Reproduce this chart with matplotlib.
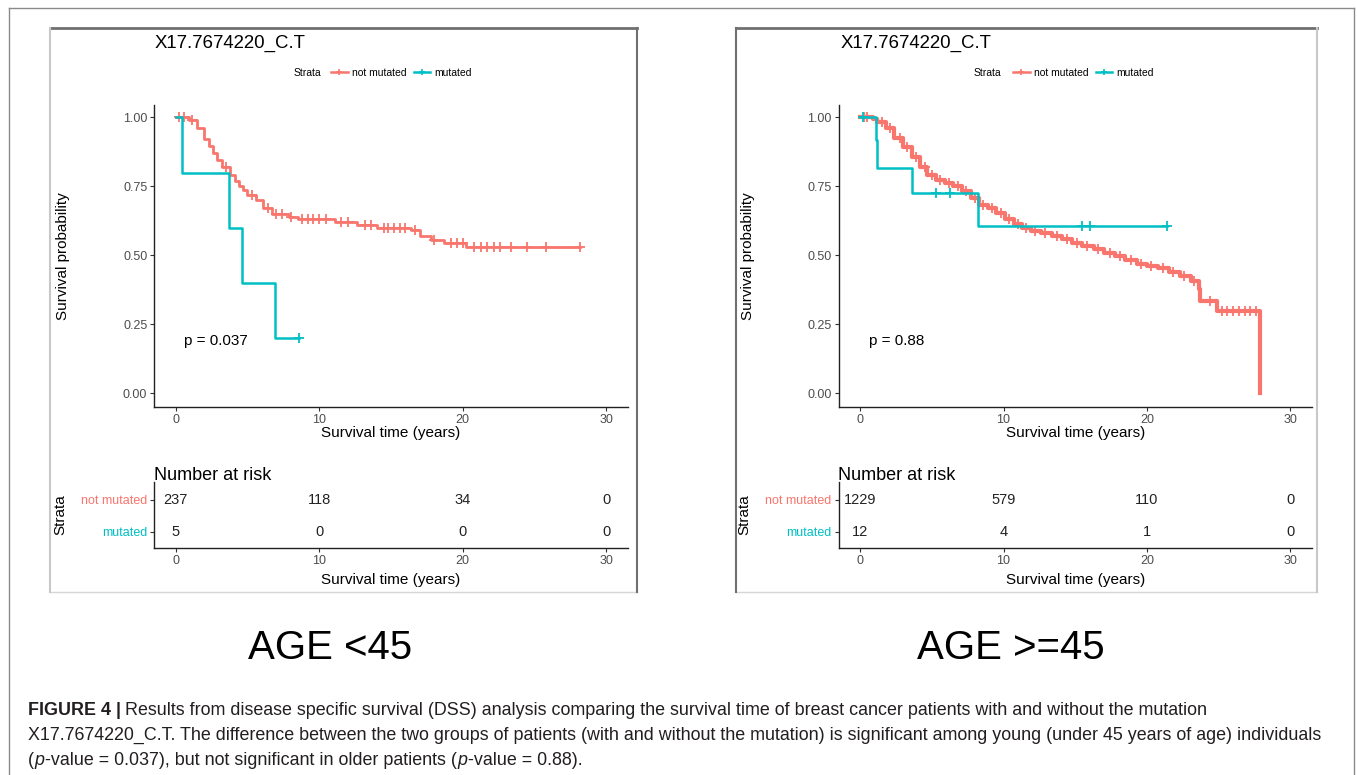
import numpy as np
import matplotlib
matplotlib.use('Agg')
import matplotlib.pyplot as plt
from matplotlib.lines import Line2D

# ---- data ----
gene_title = 'X17.7674220_C.T'
strata_labels = ['not mutated', 'mutated']
risk_times = [0, 10, 20, 30]

# AGE < 45
young_nm_time = [0, 0.9, 1.5, 2.0, 2.3, 2.6, 2.9, 3.2, 3.8, 4.1, 4.4, 4.7, 5.0, 5.6, 6.1, 6.7,
                 7.9, 8.5, 11.1, 12.6, 14.0, 16.4, 17.0, 17.8, 18.7, 20.2]
young_nm_surv = [1.0, 0.99, 0.96, 0.92, 0.895, 0.87, 0.845, 0.82, 0.79, 0.77, 0.75, 0.735, 0.72,
                 0.70, 0.67, 0.65, 0.64, 0.63, 0.62, 0.61, 0.60, 0.59, 0.57, 0.555, 0.545, 0.53]
young_nm_end = 28.2
young_nm_censor = [0.2, 0.6, 1.1, 3.5, 5.3, 6.4, 7.0, 7.4, 8.0, 8.8, 9.2, 9.6, 10.0, 10.5, 11.5,
                   12.0, 13.2, 13.6, 14.5, 14.8, 15.2, 15.6, 16.0, 16.7, 18.0, 19.2, 19.6, 20.0,
                   20.8, 21.3, 21.7, 22.2, 22.6, 23.4, 24.5, 25.8, 28.2]
young_mu_time = [0, 0.45, 3.7, 4.6, 6.9]
young_mu_surv = [1.0, 0.8, 0.6, 0.4, 0.2]
young_mu_end = 8.6
young_mu_censor = [8.6]
young_risk_nm = [237, 118, 34, 0]
young_risk_mu = [5, 0, 0, 0]
young_p = 'p = 0.037'

# AGE >= 45
old_nm_time = [0, 0.9, 1.2, 1.8, 2.4, 3.0, 3.6, 4.2, 4.7, 5.3, 5.9, 6.5, 7.1, 7.7, 8.3, 8.9, 9.5,
               10.1, 10.7, 11.3, 11.9, 12.6, 13.4, 14.1, 14.8, 15.5, 16.3, 17.0, 17.8, 18.5, 19.3,
               20.0, 20.8, 21.5, 22.3, 23.1, 23.6, 23.7, 24.9, 27.9]
old_nm_surv = [1.0, 0.996, 0.985, 0.96, 0.925, 0.894, 0.858, 0.822, 0.79, 0.774, 0.762, 0.75,
               0.732, 0.708, 0.684, 0.672, 0.654, 0.63, 0.612, 0.60, 0.588, 0.58, 0.57, 0.558,
               0.546, 0.534, 0.522, 0.51, 0.498, 0.484, 0.468, 0.46, 0.453, 0.44, 0.426, 0.408,
               0.378, 0.336, 0.297, 0.0]
old_nm_end = 27.9
old_nm_censor = [0.3, 0.5, 1.5, 2.1, 2.8, 3.3, 3.9, 4.5, 5.0, 5.6, 6.2, 6.8, 7.4, 8.0, 8.6, 9.2,
                 9.8, 10.4, 11.0, 11.6, 12.2, 12.9, 13.7, 14.4, 15.1, 15.8, 16.6, 17.4, 18.1,
                 18.9, 19.6, 20.3, 21.1, 21.8, 22.6, 23.3, 24.4, 25.2, 25.6, 26.0, 26.4, 26.8,
                 27.2, 27.6]
old_mu_time = [0, 1.1, 1.2, 3.6, 8.2]
old_mu_surv = [1.0, 0.917, 0.818, 0.727, 0.606]
old_mu_end = 21.4
old_mu_censor = [0.2, 5.3, 6.3, 15.5, 16.0, 21.4]
old_risk_nm = [1229, 579, 110, 0]
old_risk_mu = [12, 4, 1, 0]
old_p = 'p = 0.88'

RED = '#F8766D'
TEAL = '#00BFC4'
W, H = 1357, 775

plt.rcParams['font.family'] = ['Liberation Sans', 'DejaVu Sans']


def fx(px):
    return px / W


def fy(py):
    return 1 - py / H


def surv_at(t, times, surv):
    idx = np.searchsorted(times, t, side='right') - 1
    return np.asarray(surv)[idx]


def style_axis(ax):
    for s in ['top', 'right']:
        ax.spines[s].set_visible(False)
    for s in ['left', 'bottom']:
        ax.spines[s].set_linewidth(1.0)
        ax.spines[s].set_color('#222222')
    ax.tick_params(length=3, width=0.8, color='#333333', labelcolor='#4D4D4D', labelsize=9, pad=2)
    ax.set_xlim(-1.5, 31.5)
    ax.set_xticks(risk_times)


def draw_km(ax, curves, ptext):
    for t, s, end, cens, col, lw in curves:
        ax.step(list(t) + [end], list(s) + [s[-1]], where='post', color=col, lw=lw)
        ax.plot(cens, surv_at(cens, t, s), '+', color=col, ms=7, mew=1.3)
    style_axis(ax)
    ax.set_ylim(-0.05, 1.045)
    ax.set_yticks([0, 0.25, 0.5, 0.75, 1.0])
    ax.set_yticklabels(['0.00', '0.25', '0.50', '0.75', '1.00'])
    ax.set_xlabel('Survival time (years)', fontsize=11)
    ax.xaxis.set_label_coords(0.5, -0.062)
    ax.set_ylabel('Survival probability', fontsize=11)
    ax.yaxis.set_label_coords(-0.177, 0.5)
    ax.text(0.6, 0.19, ptext, fontsize=11, ha='left', va='center')


def draw_risk(ax, nm, mu):
    style_axis(ax)
    ax.set_ylim(0.5, 2.56)
    ax.set_yticks([2, 1])
    ax.set_yticklabels(strata_labels, fontsize=9)
    for lab, c in zip(ax.get_yticklabels(), [RED, TEAL]):
        lab.set_color(c)
    for x, a, b in zip(risk_times, nm, mu):
        ax.text(x, 2, str(a), ha='center', va='center', fontsize=10.5, color='#222222')
        ax.text(x, 1, str(b), ha='center', va='center', fontsize=10.5, color='#222222')
    ax.set_xlabel('Survival time (years)', fontsize=11)
    ax.xaxis.set_label_coords(0.5, -0.38)
    ax.set_ylabel('Strata', fontsize=11)
    ax.yaxis.set_label_coords(-0.184, 0.5)


def frame_line(x0, y0, x1, y1, col, lw):
    fig.add_artist(Line2D([fx(x0), fx(x1)], [fy(y0), fy(y1)], color=col, lw=lw,
                          transform=fig.transFigure))


fig = plt.figure(figsize=(W / 100, H / 100), dpi=100)

# outer frame
frame_line(9, 8, 1354, 8, '#8a8a8a', 1.0)
frame_line(9, 8, 9, 775, '#8a8a8a', 1.0)
frame_line(1354, 8, 1354, 775, '#8a8a8a', 1.0)

panels = [
    dict(ax_left=154.2, box=(49.5, 636.6), dark_side='right', title_x=155, strata_x=294,
         legend_x=331, curves=[(young_nm_time, young_nm_surv, young_nm_end, young_nm_censor, RED, 2.0),
                               (young_mu_time, young_mu_surv, young_mu_end, young_mu_censor, TEAL, 1.8)],
         p=young_p, nm=young_risk_nm, mu=young_risk_mu, age='AGE <45', age_x=330),
    dict(ax_left=838.5, box=(735.5, 1316.5), dark_side='left', title_x=841, strata_x=974,
         legend_x=1013, curves=[(old_nm_time, old_nm_surv, old_nm_end, old_nm_censor, RED, 3.0),
                                (old_mu_time, old_mu_surv, old_mu_end, old_mu_censor, TEAL, 1.8)],
         p=old_p, nm=old_risk_nm, mu=old_risk_mu, age='AGE >=45', age_x=1011),
]

for pn in panels:
    bx0, bx1 = pn['box']
    frame_line(bx0, 28, bx1, 28, '#707070', 2.0)
    frame_line(bx0, 592, bx1, 592, '#d6d6d6', 1.0)
    frame_line(bx0, 28, bx0, 592, '#707070' if pn['dark_side'] == 'left' else '#c8c8c8', 1.5)
    frame_line(bx1, 28, bx1, 592, '#707070' if pn['dark_side'] == 'right' else '#c8c8c8', 1.5)

    km_ax = fig.add_axes([fx(pn['ax_left']), fy(407), 473.5 / W, 302 / H])
    draw_km(km_ax, pn['curves'], pn['p'])

    risk_ax = fig.add_axes([fx(pn['ax_left']), fy(548), 473.5 / W, 66 / H])
    draw_risk(risk_ax, pn['nm'], pn['mu'])

    fig.text(fx(pn['title_x']), fy(43), gene_title, fontsize=13.4, ha='left', va='center')
    fig.text(fx(pn['ax_left']), fy(475), 'Number at risk', fontsize=13, ha='left', va='center')

    fig.text(fx(pn['strata_x']), fy(73), 'Strata', fontsize=7.5, ha='left', va='center')
    handles = [Line2D([], [], color=RED, lw=1.8, marker='+', ms=5, mew=1.2),
               Line2D([], [], color=TEAL, lw=1.8, marker='+', ms=5, mew=1.2)]
    km_ax.legend(handles, strata_labels, ncol=2, loc='center left', frameon=False,
                 bbox_to_anchor=(fx(pn['legend_x']), fy(73)), bbox_transform=fig.transFigure,
                 fontsize=7.5, handlelength=1.6, handletextpad=0.4, columnspacing=0.7,
                 borderpad=0, borderaxespad=0)

    fig.text(fx(pn['age_x']), fy(648), pn['age'], fontsize=29, ha='center', va='center')

# caption, written in runs so bold / italic parts line up
renderer = fig.canvas.get_renderer()


def put_runs(x_px, y_px, runs, size=12.9):
    x = x_px
    for txt, style, gap in runs:
        t = fig.text(fx(x), fy(y_px), txt, fontsize=size, ha='left', va='baseline',
                     color='#231f20', **style)
        x = t.get_window_extent(renderer).x1 + gap


put_runs(28, 715, [
    ('FIGURE 4 |', dict(weight='bold'), 4),
    ('Results from disease specific survival (DSS) analysis comparing the survival time of '
     'breast cancer patients with and without the mutation', {}, 0)])
put_runs(28, 740, [
    ('X17.7674220_C.T. The difference between the two groups of patients (with and without the '
     'mutation) is significant among young (under 45 years of age) individuals', {}, 0)])
put_runs(28, 765, [
    ('(', {}, 0.5), ('p', dict(style='italic'), 0.5),
    ('-value = 0.037), but not significant in older patients (', {}, 0.5),
    ('p', dict(style='italic'), 0.5), ('-value = 0.88).', {}, 0)])

fig.savefig('out.png', dpi=100, facecolor='white')
